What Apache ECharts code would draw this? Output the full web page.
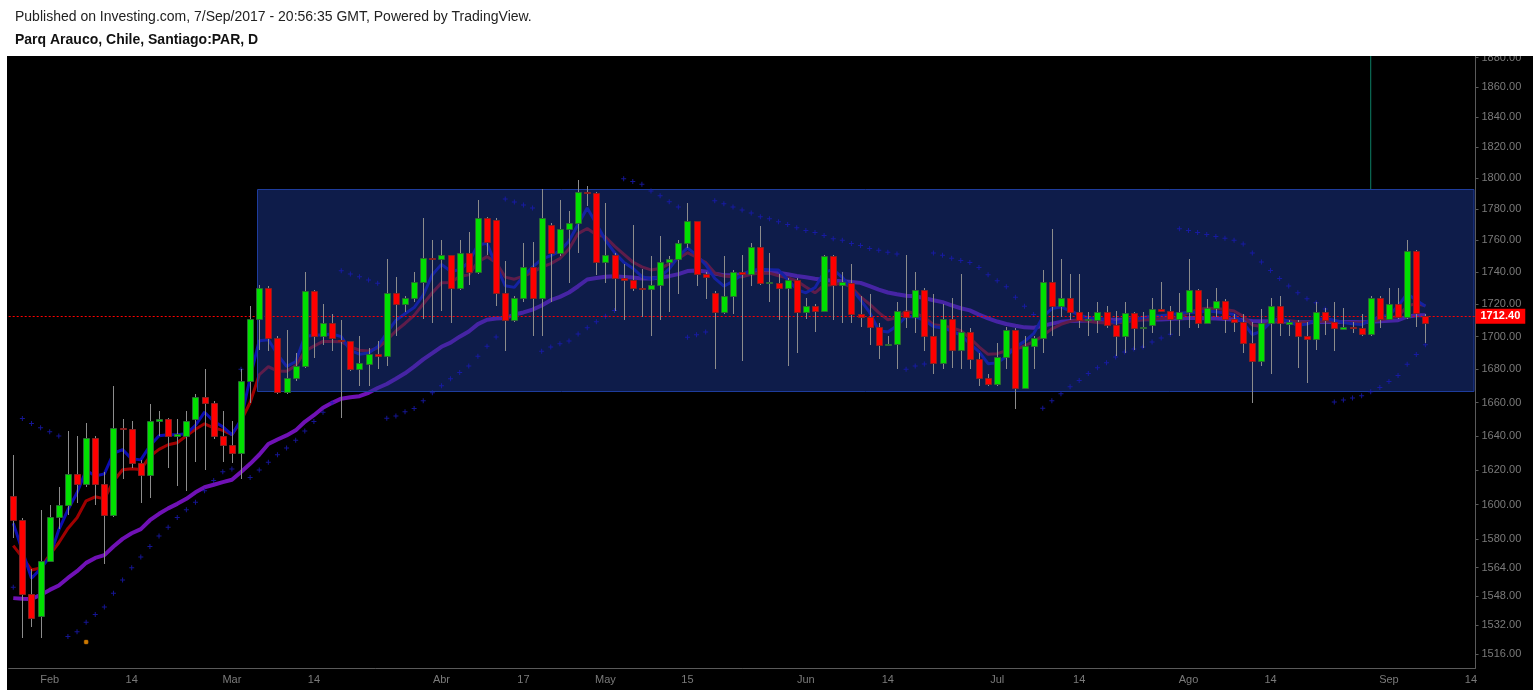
<!DOCTYPE html>
<html><head><meta charset="utf-8">
<script src="https://cdn.jsdelivr.net/npm/echarts@6/dist/echarts.min.js"></script>
<style>
html,body{margin:0;padding:0;background:#fff;}
#bg{position:absolute;left:7px;top:56px;width:1526px;height:634px;background:#000;}
#c{position:absolute;left:0;top:0;width:1533px;height:693px;}
</style>
</head><body><div id="bg"></div><div id="c"></div>
<script>
// ---------- data ----------
const dates = [
'2017-01-26','2017-01-27','2017-01-30','2017-01-31',
'2017-02-01','2017-02-02','2017-02-03','2017-02-06','2017-02-07','2017-02-08','2017-02-09','2017-02-10','2017-02-13','2017-02-14','2017-02-15','2017-02-16','2017-02-17','2017-02-20','2017-02-21','2017-02-22','2017-02-23','2017-02-24','2017-02-27','2017-02-28',
'2017-03-01','2017-03-02','2017-03-03','2017-03-06','2017-03-07','2017-03-08','2017-03-09','2017-03-10','2017-03-13','2017-03-14','2017-03-15','2017-03-16','2017-03-17','2017-03-20','2017-03-21','2017-03-22','2017-03-23','2017-03-24','2017-03-27','2017-03-28','2017-03-29','2017-03-30','2017-03-31',
'2017-04-03','2017-04-04','2017-04-05','2017-04-06','2017-04-07','2017-04-10','2017-04-11','2017-04-12','2017-04-13','2017-04-17','2017-04-18','2017-04-19','2017-04-20','2017-04-21','2017-04-24','2017-04-25','2017-04-26','2017-04-27',
'2017-05-02','2017-05-03','2017-05-04','2017-05-05','2017-05-08','2017-05-09','2017-05-10','2017-05-11','2017-05-12','2017-05-15','2017-05-16','2017-05-17','2017-05-18','2017-05-19','2017-05-22','2017-05-23','2017-05-24','2017-05-25','2017-05-26','2017-05-29','2017-05-30','2017-05-31',
'2017-06-01','2017-06-02','2017-06-05','2017-06-06','2017-06-07','2017-06-08','2017-06-09','2017-06-12','2017-06-13','2017-06-14','2017-06-15','2017-06-16','2017-06-19','2017-06-20','2017-06-21','2017-06-22','2017-06-23','2017-06-27','2017-06-28','2017-06-29','2017-06-30',
'2017-07-03','2017-07-04','2017-07-05','2017-07-06','2017-07-07','2017-07-10','2017-07-11','2017-07-12','2017-07-13','2017-07-14','2017-07-17','2017-07-18','2017-07-19','2017-07-20','2017-07-21','2017-07-24','2017-07-25','2017-07-26','2017-07-27','2017-07-28','2017-07-31',
'2017-08-01','2017-08-02','2017-08-03','2017-08-04','2017-08-07','2017-08-08','2017-08-09','2017-08-10','2017-08-11','2017-08-14','2017-08-16','2017-08-17','2017-08-18','2017-08-21','2017-08-22','2017-08-23','2017-08-24','2017-08-25','2017-08-28','2017-08-29','2017-08-30','2017-08-31',
'2017-09-01','2017-09-04','2017-09-05','2017-09-06','2017-09-07','2017-09-08','2017-09-11','2017-09-12','2017-09-13','2017-09-14'
];
const open = [1605,1591,1549,1537,1568,1593,1600,1618,1612,1639,1612,1594,1645,1644,1624,1617,1649,1650,1640,1640,1650,1663,1660,1640,1635,1630,1673,1711,1730,1699,1666,1675,1682,1728,1700,1708,1698,1697,1680,1683,1689,1688,1727,1720,1724,1734,1749,1748,1751,1730,1752,1740,1774,1773,1727,1710,1724,1743,1724,1770,1752,1767,1771,1791,1790,1746,1751,1736,1735,1730,1729.5,1732,1746.5,1748,1758,1772,1739,1727,1715,1725,1740,1739,1756,1733,1733,1730,1735,1715,1719,1716,1750,1732,1733,1714,1712,1706,1695,1695.5,1716,1712,1729,1700,1684,1711,1692,1703,1686,1675,1671,1687.5,1704,1669,1694,1699,1734,1719,1724,1715,1710,1710,1715,1707,1700,1714.5,1705,1707,1717,1716,1711,1715,1729,1708.5,1717.5,1722,1711,1709,1696,1685,1708.5,1718.5,1707.6,1709,1700,1698.5,1715,1709,1704.6,1706,1705.5,1701.4,1723.6,1711,1720,1712,1753.5,1712.4];
const high = [1629,1592,1563,1597,1600,1610,1643,1640,1648,1640,1619,1670,1650,1649,1626,1659,1655,1651,1650,1655,1665,1680,1661,1655,1649,1680,1719,1732,1731,1700,1704,1690,1740,1729,1720,1714,1710,1697,1700,1693,1697,1748,1737,1725,1740,1774,1760,1760,1751,1760,1765,1786,1775,1774,1747,1725,1758,1759,1793,1771,1786,1779,1799,1795,1791,1784,1752,1745,1770,1742,1750,1763,1750,1760,1784,1772,1740,1728,1750,1741,1751,1758,1769,1752,1739,1736,1736,1724,1720,1751,1751,1740,1745,1725,1726,1708,1700,1721,1751,1740,1730,1726,1720,1724,1739,1705,1690,1677,1696,1706,1705,1700,1700,1741,1767,1748,1739,1739,1715,1721,1719,1716,1721,1715,1715,1724,1734,1719,1727,1748,1729.5,1723,1730,1723,1714,1714,1709,1717,1724,1725,1710,1710,1709,1721,1717.5,1721,1717.5,1709,1714,1725,1725,1730,1730,1760,1754,1714];
const low = [1581,1525,1531,1525,1567,1586,1594,1601,1610,1600,1566,1593,1615,1621,1601,1604,1640,1621,1611,1608,1625,1620,1638,1625,1624,1615,1660,1692,1691,1665,1665,1673,1681,1687,1695,1691,1651,1679,1670,1670,1680,1682,1700,1715,1721,1711,1708,1716,1708,1729,1732,1739,1751,1719,1691,1709,1721,1700,1700,1721,1750,1733,1752,1782,1738,1733,1716,1710,1728,1712,1700,1710,1715,1726,1755,1731,1723,1680,1714,1714,1685,1731,1732,1721,1710,1682,1690,1711,1703,1715,1710,1708,1708,1706,1695,1686,1695,1680,1705,1702,1691,1677,1680,1681,1680,1680,1670,1670,1670,1680,1656,1668,1680,1690,1700,1712,1710,1705,1700,1702,1705,1688,1690,1692,1693,1702,1715,1701,1700,1705,1705,1708,1712,1702,1703,1690,1660,1682,1677,1700,1700,1681,1672,1692,1701,1691,1704,1702,1700,1700,1705,1710,1711,1711,1706,1696];
const close = [1591,1549,1536,1568,1593,1600,1618,1612,1639,1612,1594,1645,1644,1624,1617,1649,1650,1640,1641,1649,1663,1660,1640,1635,1630,1673,1711,1730,1699,1666,1675,1682,1728,1700,1708,1699,1697,1680,1684,1689,1688,1727,1720,1724,1734,1749,1748,1751,1730,1752,1740,1774,1759,1727,1710,1724,1743,1724,1774,1752,1767,1771,1791,1790,1746,1751,1736,1735,1730,1729.5,1732,1746,1748,1758,1772,1739,1737,1715,1725,1740,1739,1756,1733,1733.5,1730,1735,1715,1718.5,1716,1750,1732,1733.5,1714,1712,1706,1695,1695.5,1716,1712,1729,1700,1684,1711,1692,1703,1686,1675,1671,1687.5,1704,1669,1694,1699,1734,1719,1724,1715,1710,1710.5,1715,1707,1700,1714.5,1705,1706,1717,1716,1711,1715,1729,1708.5,1717.5,1722,1711,1709,1696,1685,1708.5,1718.5,1708,1709,1700,1698.5,1715,1710,1705,1705.7,1705.5,1701.4,1723.6,1711,1720,1712,1753.5,1714.4,1708.5];
// moving averages
const maFast = [1589.3,1573.6,1558,1563.3,1570.1,1585.5,1597,1606.8,1619.9,1616.6,1617.8,1629.9,1632,1626.6,1626,1634.3,1640.2,1640.8,1640.8,1641.4,1646.4,1654.2,1648.8,1645.5,1640.8,1649.7,1674.9,1697.4,1698,1689.1,1681.8,1684.6,1700,1700.8,1701.1,1701.5,1699.9,1691.5,1689.2,1689.9,1693.7,1702.3,1709.9,1714,1717.8,1725.6,1738.3,1744.8,1740.5,1741.4,1746.2,1757,1758.1,1744,1731.4,1730.4,1737.3,1743.1,1748.1,1750.3,1753.2,1759.6,1770.2,1780.6,1770.6,1760.1,1752.2,1746.2,1742.4,1737.1,1735.6,1737,1742,1749.7,1755.2,1750.6,1744.6,1736,1731.2,1734.1,1738.5,1741,1741.8,1741.5,1741.2,1735.4,1729,1727,1730.2,1739.9,1741.5,1736.7,1729.6,1722.6,1714.8,1703.6,1702.7,1706.6,1712.3,1712.2,1709.9,1706.1,1705.2,1703.5,1700.8,1695.6,1690.7,1683.4,1683.9,1687.8,1693.5,1697,1701.7,1712,1717.2,1718.1,1715.9,1713.1,1711.6,1711.3,1710.3,1708.4,1710,1710.3,1711.7,1712.4,1712.7,1713.4,1714.2,1715,1714.8,1715.7,1715.3,1714.5,1713.5,1708.5,1701.2,1703.1,1708.8,1711.3,1709.1,1706.9,1707.6,1710.3,1711.1,1710,1708.6,1707.9,1707.3,1710.2,1712.1,1713.1,1718.7,1726.5,1722.4,1718.7];
const maMid = [1576.5,1569.8,1562.7,1563.8,1571.2,1578.1,1586.3,1592.4,1602.2,1604.5,1603.3,1613.5,1620.2,1620.8,1620.3,1628.1,1632.2,1634.9,1636.1,1640.2,1644.1,1647.3,1644.9,1643.4,1640.8,1649,1660,1676.7,1681.6,1678.9,1678.8,1682.2,1691,1694.1,1697,1697,1696.8,1693.7,1691.6,1691.1,1693.1,1697.7,1703.4,1708,1713,1720,1727,1733.2,1733.4,1737.2,1738.2,1746.4,1749.7,1745.9,1736.8,1735.5,1737.4,1739.8,1743.1,1745.3,1748.5,1754.5,1764.3,1767.5,1763.6,1762.1,1756.3,1751.3,1746.3,1743.2,1741.3,1742.2,1745.1,1748.5,1752.2,1749.3,1746,1739.4,1737.5,1737,1737,1738.6,1739.4,1739.3,1737.7,1736.4,1734.4,1730.6,1727,1731.7,1732.1,1733,1730.5,1724.5,1720,1714.7,1710.3,1711.6,1715.5,1714.2,1711.9,1707.2,1706.6,1705.4,1703.5,1699.1,1693.7,1689.1,1689.5,1691.3,1692.2,1694.2,1696.8,1700.5,1704.7,1707.5,1709.3,1710.3,1709.4,1708.6,1708.3,1708.3,1708.9,1709.6,1710.3,1710.6,1711,1711.4,1712.2,1714.5,1716.6,1717.4,1717.3,1716.6,1715.7,1712.4,1707.1,1706.2,1708.5,1710,1709.7,1709.1,1708.7,1709.2,1709.3,1709.3,1708.7,1708.4,1708.5,1709.3,1710.3,1711.2,1712.4,1718.7,1720.4,1719];
const maSlow = [1546.9,1546.6,1546.4,1548.7,1551.5,1554,1558.2,1562,1566.7,1569.5,1571.1,1576,1580.3,1583.5,1585.9,1591,1594.7,1597.8,1600.4,1603.3,1607.1,1610,1611.5,1613,1614.4,1618.9,1623.7,1629,1635.3,1638,1640.4,1643.4,1648.5,1652.4,1656.9,1659.8,1662.3,1663.2,1663.8,1665.8,1668.7,1671.1,1674.3,1677.6,1681.6,1686,1689.8,1693.7,1696.2,1699.9,1703.1,1707.6,1710.3,1711,1711.3,1713.5,1714.8,1716.6,1719.1,1722.4,1724.5,1727.2,1731.1,1735.3,1736.2,1737,1737.3,1736.9,1736.5,1736,1736,1736.5,1737.4,1738.7,1740.6,1741,1740.3,1739,1738,1738,1738.6,1739.4,1739.9,1740,1739.5,1738.6,1737.5,1736.7,1735.8,1735,1734.5,1734.2,1733.7,1733.2,1731.2,1729,1727.2,1726.1,1725.2,1724.9,1723.7,1722.4,1721.2,1719.2,1717.4,1716.1,1713.5,1711.2,1709.2,1707.7,1706.6,1705.6,1705.4,1706.5,1707.9,1709,1709.5,1709.7,1709.9,1710.1,1710.3,1710.3,1710.3,1710.6,1710.8,1710.4,1710.5,1710.7,1711,1711.3,1711.3,1711.2,1711,1710.8,1710.4,1710,1709.5,1709.3,1709.3,1709.2,1709.1,1708.9,1708.8,1708.9,1708.9,1708.9,1708.9,1708.9,1708.8,1709.1,1709.4,1709.7,1710,1712.2,1713.1,1713.1];
// parabolic SAR dots
const sar = [1553,1650.5,1647.5,1645,1642.6,1640,1525.7,1528.2,1533.5,1537.8,1542,1549.6,1557,1564,1570,1576,1582,1587,1592.5,1597,1601.4,1608,1614,1619,1620.6,1680,1615.7,1620,1624.6,1629,1633,1637.5,1643,1648.6,1654.2,1659.8,1740.8,1738.7,1737,1735,1733,1650.6,1652,1654.4,1656.4,1661,1665.8,1670,1674.3,1678,1682,1688,1694,1699.7,1786.5,1784.5,1782.6,1780.7,1691,1693.6,1695.6,1697.3,1701.5,1705.3,1709,1712.5,1716,1799.5,1797.7,1796,1791.6,1788.5,1784.6,1781.3,1699.5,1701,1702.7,1785.3,1783.3,1781.3,1779.4,1777.5,1775,1773.7,1771.9,1770,1768,1766.2,1765,1763,1761,1760,1758,1756.8,1754.9,1753.7,1752.4,1751.3,1680,1682,1683.2,1752,1750.5,1748.6,1747.3,1746,1742.8,1738.3,1734.5,1730.7,1724.3,1718.6,1713.6,1656.6,1661,1665.3,1669.5,1673.2,1677.4,1681,1684,1687.5,1690.5,1692.4,1693.6,1696.6,1699,1701.4,1767.4,1766.2,1765,1763.7,1762.5,1761.3,1760,1757.6,1752,1746.3,1741,1735.9,1731.3,1727,1723.3,1720.8,1717,1660.3,1661.5,1662.7,1664,1666.5,1669,1672.6,1676.3,1683,1689,1695];
const lastPrice = 1712.40;
const boxStart = 27, boxTop = 1792.6, boxBottom = 1667.1;
const spikeIdx = 149, spikeFrom = 1792.6, spikeTo = 1950;
const signalIdx = 8, signalValue = 1522.6;
const yTicks = [1516,1532,1548,1564,1580,1600,1620,1640,1660,1680,1700,1720,1740,1760,1780,1800,1820,1840,1860,1880];
const tickDates = ['2017-02-01','2017-02-14','2017-03-01','2017-03-14','2017-04-03','2017-04-17','2017-05-02','2017-05-15','2017-06-01','2017-06-14','2017-07-03','2017-07-14','2017-08-01','2017-08-14','2017-09-01','2017-09-14'];
const tickTexts = ['Feb','14','Mar','14','Abr','17','May','15','Jun','14','Jul','14','Ago','14','Sep','14'];
const yMinPrice = 1508.4, yMaxPrice = 1881.0;

// ---------- chart ----------
const L = Math.log;
const candles = open.map((o, i) => [i, L(o), L(close[i]), L(low[i]), L(high[i])]);
const lineOf = arr => arr.map((v, i) => [i, L(v)]);
const showTick = (i, v) => tickDates.indexOf(v) >= 0;

const chart = echarts.init(document.getElementById('c'), null, {renderer: 'canvas'});
chart.setOption({
  animation: false,
  backgroundColor: 'transparent',
  title: [
    {text: 'Published on Investing.com, 7/Sep/2017 - 20:56:35 GMT, Powered by TradingView.', left: 15, top: 10, padding: 0, z: 200,
     textStyle: {fontFamily: 'Liberation Sans, Arial, sans-serif', fontSize: 14, fontWeight: 'normal', color: '#222'}},
    {text: 'Parq Arauco, Chile, Santiago:PAR, D', left: 15, top: 33, padding: 0, z: 200,
     textStyle: {fontFamily: 'Liberation Sans, Arial, sans-serif', fontSize: 14, fontWeight: 'bold', color: '#111'}}
  ],
  graphic: [
    {type: 'rect', shape: {x: 0, y: 0, width: 1533, height: 56}, style: {fill: '#fff'}, z: 100, silent: true},
    {type: 'rect', shape: {x: 0, y: 0, width: 7, height: 693}, style: {fill: '#fff'}, z: 100, silent: true},
    {type: 'rect', shape: {x: 0, y: 690, width: 1533, height: 3}, style: {fill: '#fff'}, z: 100, silent: true}
  ],
  grid: {left: 8.7, right: 57.5, top: 56, bottom: 25, containLabel: false},
  xAxis: {
    type: 'category', data: dates, boundaryGap: true,
    axisLine: {lineStyle: {color: '#5a5a5a', width: 1}},
    axisTick: {alignWithLabel: true, interval: showTick, length: 3, lineStyle: {color: '#5a5a5a'}},
    axisLabel: {interval: showTick, formatter: v => tickTexts[tickDates.indexOf(v)] || '', color: '#7a7a7a', fontSize: 11,
      fontFamily: 'Liberation Sans Narrow, Liberation Sans, Arial, sans-serif', margin: 6},
    splitLine: {show: false}
  },
  yAxis: {
    type: 'value', position: 'right', min: L(yMinPrice), max: L(yMaxPrice),
    axisLine: {show: true, lineStyle: {color: '#5a5a5a', width: 1}},
    axisTick: {show: true, length: 3, customValues: yTicks.map(L), lineStyle: {color: '#5a5a5a'}},
    axisLabel: {customValues: yTicks.map(L), formatter: v => Math.exp(v).toFixed(2), color: '#7a7a7a', fontSize: 11,
      fontFamily: 'Liberation Sans, Arial, sans-serif', margin: 6},
    splitLine: {show: false}
  },
  series: [
    {name: 'slow', type: 'line', data: lineOf(maSlow), showSymbol: false, symbol: 'none', z: 2,
     lineStyle: {color: '#7011b5', width: 4}},
    {name: 'mid', type: 'line', data: lineOf(maMid), showSymbol: false, symbol: 'none', z: 2,
     lineStyle: {color: '#a00000', width: 3}},
    {name: 'fast', type: 'line', data: lineOf(maFast), showSymbol: false, symbol: 'none', z: 2,
     lineStyle: {color: '#0c0cb0', width: 3}},
    {name: 'spike', type: 'line', data: [[spikeIdx, L(spikeFrom)], [spikeIdx, L(spikeTo)]], showSymbol: false, symbol: 'none', z: 2,
     lineStyle: {color: '#0d7f66', width: 1}},
    {name: 'box', type: 'custom', z: 3, silent: true,
     data: [[boxStart, L(boxTop), L(boxBottom)]],
     encode: {x: 0, y: [1, 2]},
     renderItem: (params, api) => {
       const p1 = api.coord([api.value(0), api.value(1)]);
       const p2 = api.coord([api.value(0), api.value(2)]);
       const cs = params.coordSys;
       const x0 = Math.round(p1[0]) - 1.5;
       const right = cs.x + cs.width - 1.5;
       return {type: 'rect', shape: {x: x0, y: Math.round(p1[1]) + 0.5, width: right - x0, height: Math.round(p2[1]) - Math.round(p1[1])},
               style: {fill: 'rgba(28,56,148,0.5)', stroke: '#1e3c9c', lineWidth: 1}};
     }},
    {name: 'sar', type: 'scatter', z: 4, silent: true,
     data: lineOf(sar),
     symbol: 'path://M2 0h1v2h2v1h-2v2h-1v-2h-2v-1h2z', symbolSize: 5,
     itemStyle: {color: '#1a1ab8'}},
    {name: 'signal', type: 'scatter', z: 4, silent: true,
     data: [[signalIdx, L(signalValue)]], symbol: 'roundRect', symbolSize: 4,
     itemStyle: {color: '#ff9900', borderColor: '#b06000', borderWidth: 0.5}},
    {name: 'candles', type: 'custom', z: 5, silent: true,
     data: candles, encode: {x: 0, y: [1, 2, 3, 4]},
     renderItem: (params, api) => {
       const i = api.value(0), o = api.value(1), c = api.value(2), lo = api.value(3), hi = api.value(4);
       const pO = api.coord([i, o]), pC = api.coord([i, c]), pL = api.coord([i, lo]), pH = api.coord([i, hi]);
       const x = Math.round(pO[0]) + 0.5;
       const up = c >= o;
       const top = Math.round(Math.min(pO[1], pC[1])) + 0.5;
       const bot = Math.round(Math.max(pO[1], pC[1])) + 0.5;
       const h = Math.max(bot - top, 0.01);
       return {type: 'group', children: [
         {type: 'line', shape: {x1: x, y1: Math.round(pH[1]), x2: x, y2: Math.round(pL[1])}, style: {stroke: '#8c8c8c', lineWidth: 1}},
         {type: 'rect', shape: {x: x - 3, y: top, width: 6, height: h},
          style: {fill: up ? '#00e000' : '#ff0000', stroke: up ? '#2b6a33' : '#8a2020', lineWidth: 1}}
       ]};
     }},
    {name: 'last', type: 'line', data: [], z: 6, silent: true,
     markLine: {silent: true, symbol: ['none', 'none'], animation: false, precision: 8,
       data: [{yAxis: L(lastPrice)}],
       lineStyle: {color: '#ff0000', type: [2, 2], width: 1},
       label: {show: true, position: 'end', distance: 0, formatter: lastPrice.toFixed(2), backgroundColor: '#ff0000', color: '#fff',
         fontWeight: 'bold', fontSize: 11, fontFamily: 'Liberation Sans, Arial, sans-serif', padding: [2, 5, 2, 5]}}}
  ]
});
</script>
</body></html>
